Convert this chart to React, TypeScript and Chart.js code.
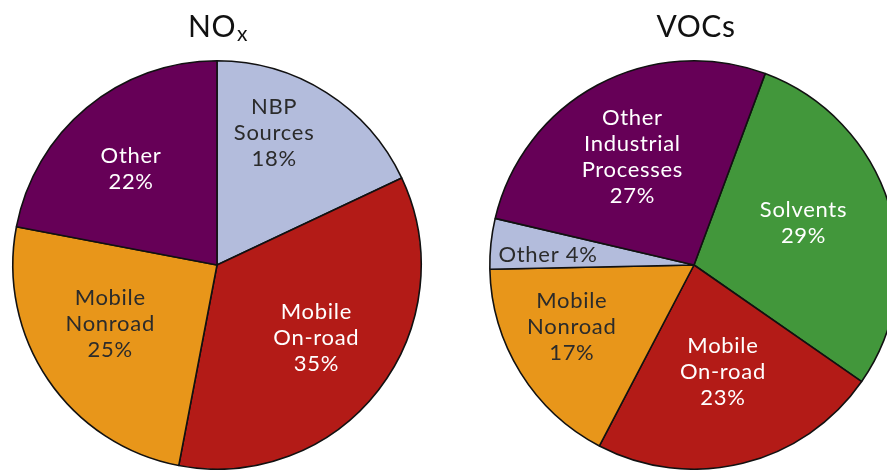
import React, { useEffect, useRef } from "react";
import { Chart, registerables } from "chart.js";

Chart.register(...registerables);

// ---- Data ----
const noxTitle = { main: "NO", sub: "x" };
const noxCategories = [["NBP", "Sources"], ["Mobile", "On-road"], ["Mobile", "Nonroad"], ["Other"]];
const noxValues = [18, 35, 25, 22];

const vocTitle = { main: "VOCs", sub: "" };
const vocCategories = [["Solvents"], ["Mobile", "On-road"], ["Mobile", "Nonroad"], ["Other"], ["Other", "Industrial", "Processes"]];
const vocValues = [29, 23, 17, 4, 27];

// ---- Styles ----
const PURPLE = "#660057";
const LAVENDER = "#b3bcdc";
const RED = "#b31b17";
const ORANGE = "#e8961a";
const GREEN = "#42973b";

const noxColors = [LAVENDER, RED, ORANGE, PURPLE];
const noxTextColors = ["#2b2b2b", "#ffffff", "#2b2b2b", "#ffffff"];
const noxPlacement = [
  { da: -9.2, f: 0.71, inline: false },
  { da: -2, f: 0.6, inline: false },
  { da: 5.7, f: 0.595, inline: false },
  { da: -2, f: 0.634, inline: false },
];

const vocColors = [GREEN, RED, ORANGE, LAVENDER, PURPLE];
const vocTextColors = ["#ffffff", "#ffffff", "#2b2b2b", "#2b2b2b", "#ffffff"];
const vocPlacement = [
  { da: -4, f: 0.576, inline: false },
  { da: -1.5, f: 0.537, inline: false },
  { da: 5.4, f: 0.668, inline: false },
  { da: -1.7, f: 0.717, inline: true },
  { da: -1.2, f: 0.615, inline: false },
];

const FONT = "Lato, 'DejaVu Sans', sans-serif";

const sliceLabels = {
  id: "sliceLabels",
  afterDatasetsDraw(chart: any, _args: any, opts: any) {
    const ctx = chart.ctx as CanvasRenderingContext2D;
    const meta = chart.getDatasetMeta(0);
    const data = chart.data.datasets[0].data as number[];
    ctx.save();
    ctx.font = `22px ${FONT}`;
    (ctx as any).letterSpacing = "0.7px";
    ctx.textAlign = "center";
    ctx.textBaseline = "middle";
    meta.data.forEach((arc: any, i: number) => {
      const { x, y, startAngle, endAngle, outerRadius } = arc.getProps(
        ["x", "y", "startAngle", "endAngle", "outerRadius"],
        true
      );
      const p = opts.placement[i];
      const a = (startAngle + endAngle) / 2 + (p.da * Math.PI) / 180;
      const r = outerRadius * p.f;
      const cx = x + r * Math.cos(a);
      const cy = y + r * Math.sin(a);
      const names: string[] = opts.names[i];
      const lines = p.inline ? [`${names.join(" ")} ${data[i]}%`] : [...names, `${data[i]}%`];
      const lh = 26;
      ctx.fillStyle = opts.textColors[i];
      lines.forEach((ln, k) => {
        ctx.fillText(ln, cx, cy + 1 + (k - (lines.length - 1) / 2) * lh);
      });
    });
    ctx.restore();
  },
};

const pieTitle = {
  id: "pieTitle",
  afterDraw(chart: any, _args: any, opts: any) {
    const ctx = chart.ctx as CanvasRenderingContext2D;
    const ca = chart.chartArea;
    const cx = (ca.left + ca.right) / 2 + (opts.dx || 0);
    const baseY = 37;
    ctx.save();
    ctx.fillStyle = "#111";
    ctx.textBaseline = "alphabetic";
    ctx.font = `30px ${FONT}`;
    (ctx as any).letterSpacing = "0.5px";
    const wMain = ctx.measureText(opts.main).width;
    ctx.font = `21px ${FONT}`;
    const wSub = opts.sub ? ctx.measureText(opts.sub).width + 1 : 0;
    const start = cx - (wMain + wSub) / 2;
    ctx.font = `30px ${FONT}`;
    ctx.textAlign = "left";
    ctx.fillText(opts.main, start, baseY);
    if (opts.sub) {
      ctx.font = `21px ${FONT}`;
      ctx.fillText(opts.sub, start + wMain + 1, baseY + 4);
    }
    ctx.restore();
  },
};

function makeChart(canvas: HTMLCanvasElement, cfg: any) {
  return new Chart(canvas, {
    type: "pie",
    data: {
      labels: cfg.names.map((n: string[]) => n.join(" ")),
      datasets: [
        {
          data: cfg.values,
          backgroundColor: cfg.colors,
          borderColor: "#111111",
          borderWidth: 1.6,
        },
      ],
    },
    options: {
      responsive: false,
      animation: false,
      events: [],
      rotation: cfg.rotation,
      layout: { padding: { top: 60, bottom: 0, left: 0, right: 0 } },
      plugins: {
        legend: { display: false },
        tooltip: { enabled: false },
        title: { display: false },
        sliceLabels: {
          names: cfg.names,
          placement: cfg.placement,
          textColors: cfg.textColors,
        },
        pieTitle: { main: cfg.title.main, sub: cfg.title.sub, dx: cfg.titleDx },
      } as any,
    },
    plugins: [sliceLabels, pieTitle],
  });
}

export default function App() {
  const leftRef = useRef<HTMLCanvasElement>(null);
  const rightRef = useRef<HTMLCanvasElement>(null);

  useEffect(() => {
    const c1 = makeChart(leftRef.current!, {
      names: noxCategories,
      values: noxValues,
      colors: noxColors,
      textColors: noxTextColors,
      placement: noxPlacement,
      rotation: 0,
      title: noxTitle,
      titleDx: 1,
    });
    const c2 = makeChart(rightRef.current!, {
      names: vocCategories,
      values: vocValues,
      colors: vocColors,
      textColors: vocTextColors,
      placement: vocPlacement,
      rotation: 20.4,
      title: vocTitle,
      titleDx: 2,
    });
    return () => {
      c1.destroy();
      c2.destroy();
    };
  }, []);

  return (
    <div style={{ position: "relative", width: 887, height: 470, overflow: "hidden", background: "#fff" }}>
      <style>{`body{margin:0}`}</style>
      <canvas ref={leftRef} width={434} height={470} style={{ position: "absolute", left: 0, top: 0 }} />
      <canvas ref={rightRef} width={420} height={470} style={{ position: "absolute", left: 484, top: 0 }} />
    </div>
  );
}
